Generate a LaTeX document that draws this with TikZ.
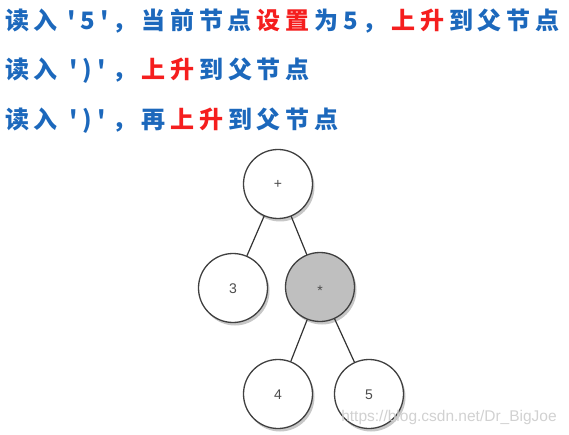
\documentclass[tikz,border=0pt]{standalone}
\usepackage{fontspec}
\usetikzlibrary{shadows}
\newfontfamily\cjk{Noto Sans CJK SC}[LetterSpace=20]
\newfontfamily\arial{Liberation Sans}
\definecolor{readblue}{RGB}{28,104,188}
\definecolor{upred}{RGB}{245,30,30}
\newcommand\readchar[1]{\kern4.8pt\makebox[50pt]{'\hspace{5pt}#1\hspace{5pt}'}}
\newcommand\hl[1]{\kern4.8pt\textcolor{upred}{#1\kern4.8pt}}

\begin{document}
\begin{tikzpicture}[line cap=round,line join=round,x=1pt,y=-1pt,
    stepline/.style={anchor=west,inner sep=0pt,font=\cjk\bfseries\fontsize{24}{28}\selectfont,text=readblue},
    treenode/.style={circle,draw=black!75,line width=1.3pt,fill=white,minimum size=69pt,inner sep=0pt,
      font=\arial\fontsize{14}{16}\selectfont,text=black!70,text height=10pt,text depth=0pt,
      drop shadow={shadow xshift=2pt,shadow yshift=-3pt,opacity=.22,fill=black}},
    curnode/.style={treenode,fill=black!25},
    branch/.style={line width=1.2pt,draw=black!80}]
  \useasboundingbox (0,0) rectangle (569,435);
  % the three reading steps
  \node[stepline] (s1) at (5,21) {读入\readchar{5}，当前节点\hl{设置}为5，\hl{上升}到父节点};
  \node[stepline] (s2) at (5,71) {读入\readchar{)}，\hl{上升}到父节点};
  \node[stepline] (s3) at (5,121) {读入\readchar{)}，再\hl{上升}到父节点};
  % parse tree
  \node[treenode] (plus) at (278,184) {+};
  \node[treenode] (three) at (233,288) {3};
  \node[curnode] (times) at (320,287) {\raisebox{-3pt}{*}};
  \node[treenode] (four) at (278,394) {4};
  \node[treenode] (five) at (369,394) {5};
  \draw[branch] (plus) -- (three);
  \draw[branch] (plus) -- (times);
  \draw[branch] (times) -- (four);
  \draw[branch] (times) -- (five);
  \node[font=\arial\fontsize{15.5}{18}\selectfont,text=black!18] (mark) at (449,417) {https://blog.csdn.net/Dr\_BigJoe};
\end{tikzpicture}
\end{document}
